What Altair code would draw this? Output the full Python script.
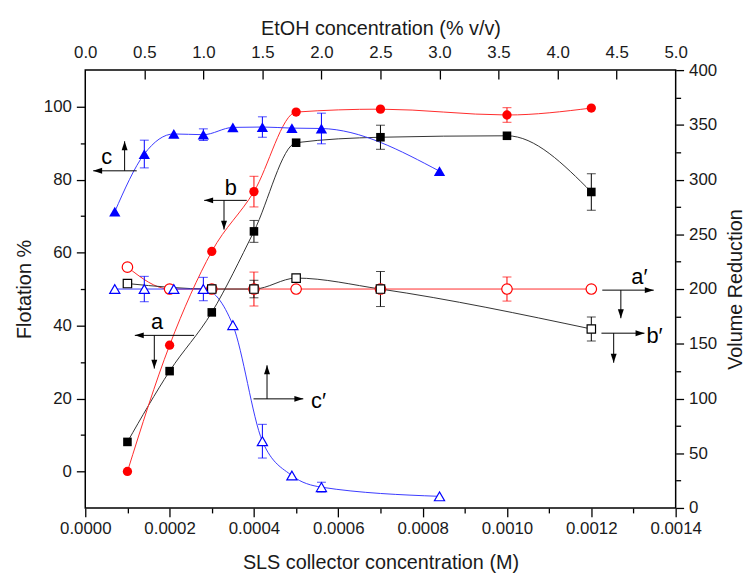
import altair as alt
import pandas as pd

# ---------------- axis ranges ----------------
X_DOMAIN = [0.0, 0.0014]        # SLS collector concentration (M), bottom axis
Y_DOMAIN = [-10.0, 110.0]       # Flotation %, left axis
ETOH_MAX = 5.0                  # top axis 0..5 % v/v spans the same width
VR_MAX = 400.0                  # right axis 0..400 spans the same height

K_ETOH = X_DOMAIN[1] / ETOH_MAX


def vr_to_fl(v):
    return v * (Y_DOMAIN[1] - Y_DOMAIN[0]) / VR_MAX + Y_DOMAIN[0]


# ---------------- data ----------------
sls = [0.0001, 0.0002, 0.0003, 0.0004, 0.0005, 0.0007, 0.0010, 0.0012]
flot_a = [0.0, 34.6, 60.3, 76.7, 98.5, 99.3, 97.7, 99.6]      # red filled circles (a)
flot_b = [8.1, 27.5, 43.6, 65.8, 90.1, 91.6, 92.0, 76.6]      # black filled squares (b)

etoh = [0.25, 0.5, 0.75, 1.0, 1.25, 1.5, 1.75, 2.0, 3.0]
flot_c = [71.2, 87.0, 92.5, 92.3, 94.3, 94.4, 94.1, 94.0, 82.3]  # blue filled triangles (c)

vr_a = [220, 200, 200, 200, 200, 200, 200, 200]               # red open circles (a')
sls_b2 = [0.0001, 0.0003, 0.0004, 0.0005, 0.0007, 0.0012]
vr_b = [205, 200, 200, 210, 200, 163.5]                       # black open squares (b')
vr_c = [200, 200, 200, 200, 167, 61, 29.6, 19, 10.6]          # blue open triangles (c')

# error bars: index into the series, half width (series units)
err_a_idx, err_a_half = [3, 6], [4.2, 2.0]
err_b_idx, err_b_half = [3, 5, 7], [3.0, 3.3, 5.0]
err_c_idx, err_c_half = [1, 3, 5, 7], [3.8, 1.6, 2.8, 4.2]
err_a2_idx, err_a2_half = [3, 6], [15.5, 11.0]
err_b2_idx, err_b2_half = [2, 4, 5], [8.0, 16.0, 11.0]
err_c2_idx, err_c2_half = [1, 3, 5, 7], [11.6, 10.7, 15.4, 4.5]

# annotations (x in M, y in Flotation %)
lab_text = ["c", "b", "a", "c\u2032", "a\u2032", "b\u2032"]
lab_x = [0.0000505, 0.000345, 0.000170, 0.000553, 0.001314, 0.001350]
lab_y = [86.2, 77.6, 40.9, 19.4, 53.3, 37.0]
h_x1 = [0.0000188, 0.000282, 0.0001175, 0.000399, 0.001226, 0.001224]
h_x2 = [0.000122, 0.000383, 0.000258, 0.000517, 0.001348, 0.001326]
h_y = [82.4, 74.3, 37.3, 19.9, 49.7, 37.9]
h_dir = ["left", "left", "left", "right", "right", "right"]
v_x = [0.0000933, 0.000329, 0.0001637, 0.000431, 0.001270, 0.001253]
v_y1 = [82.4, 74.3, 37.3, 19.9, 49.7, 37.9]
v_y2 = [90.5, 66.3, 28.2, 29.1, 42.0, 29.8]

RED, BLACK, BLUE = "#ff0000", "#000000", "#0000ff"
LRED, LBLACK, LBLUE = "#ff2a2a", "#333333", "#3a3aff"

# ---------------- tables ----------------
etoh_x = [e * K_ETOH for e in etoh]


def sdf(name, xs, ys, lc):
    return pd.DataFrame({"series": name, "x": xs, "y": ys, "lc": lc})


a_df = sdf("a", sls, flot_a, LRED)
b_df = sdf("b", sls, flot_b, LBLACK)
c_df = sdf("c", etoh_x, flot_c, LBLUE)
a2_df = sdf("a2", sls, [vr_to_fl(v) for v in vr_a], LRED)
b2_df = sdf("b2", sls_b2, [vr_to_fl(v) for v in vr_b], LBLACK)
c2_df = sdf("c2", etoh_x, [vr_to_fl(v) for v in vr_c], LBLUE)
lines_df = pd.concat([a2_df, b2_df, c2_df, b_df, a_df, c_df], ignore_index=True)

rows = []
for df, idx, half, col, scale in [
    (a_df, err_a_idx, err_a_half, RED, 1.0),
    (b_df, err_b_idx, err_b_half, BLACK, 1.0),
    (c_df, err_c_idx, err_c_half, BLUE, 1.0),
    (a2_df, err_a2_idx, err_a2_half, RED, 0.3),
    (b2_df, err_b2_idx, err_b2_half, BLACK, 0.3),
    (c2_df, err_c2_idx, err_c2_half, BLUE, 0.3),
]:
    for i, h in zip(idx, half):
        xv, yv = df["x"][i], df["y"][i]
        rows.append({"x": xv, "lo": yv - h * scale, "hi": yv + h * scale, "c": col})
err_df = pd.DataFrame(rows)
caps_df = pd.concat(
    [err_df[["x", "lo", "c"]].rename(columns={"lo": "y"}),
     err_df[["x", "hi", "c"]].rename(columns={"hi": "y"})],
    ignore_index=True,
)

lab_df = pd.DataFrame({"x": lab_x, "y": lab_y, "t": lab_text})
h_df = pd.DataFrame({"x": h_x1, "x2": h_x2, "y": h_y})
v_df = pd.DataFrame({"x": v_x, "y": v_y1, "y2": v_y2})
heads = []
for x1, x2, y, d in zip(h_x1, h_x2, h_y, h_dir):
    heads.append({"x": x1 if d == "left" else x2, "y": y, "d": d})
for x, y1, y2 in zip(v_x, v_y1, v_y2):
    heads.append({"x": x, "y": y2, "d": "up" if y2 > y1 else "down"})
heads_df = pd.DataFrame(heads)
SHAPES = {
    "left": "M0,0L3,-1L3,1Z",
    "right": "M0,0L-3,-1L-3,1Z",
    "up": "M0,0L-1,3L1,3Z",
    "down": "M0,0L-1,-3L1,-3Z",
}

# ---------------- scales & axes ----------------
xs = alt.Scale(domain=X_DOMAIN, nice=False, zero=False)
ys = alt.Scale(domain=Y_DOMAIN, nice=False, zero=False)

x_major = [i * 0.0002 for i in range(8)]
x_minor = [0.0001 + i * 0.0002 for i in range(7)]
top_vals = [i * 0.5 * K_ETOH for i in range(11)]
top_ticks = [i * 0.5 * K_ETOH for i in range(1, 10)]
y_major = [0, 20, 40, 60, 80, 100]
y_minor = [10, 30, 50, 70, 90]
r_major = [vr_to_fl(v) for v in range(0, 401, 50)]
r_minor = [vr_to_fl(v) for v in range(25, 400, 50)]

ax_bottom = alt.Axis(orient="bottom", values=x_major, format=".4f",
                     title="SLS collector concentration (M)", tickSize=9,
                     labelPadding=4, titlePadding=16, labelFlush=False,
                     labelOverlap=False)
ax_bottom_minor = alt.Axis(orient="bottom", values=x_minor, labels=False,
                           title=None, tickSize=5)
ax_top = alt.Axis(orient="top", values=top_vals, ticks=False, tickSize=0,
                  labelExpr=f"format(datum.value / {K_ETOH}, '.1f')",
                  title="EtOH concentration (% v/v)", labelPadding=9,
                  titlePadding=5, labelFlush=False, labelOverlap=False)
ax_top_ticks = alt.Axis(orient="top", values=top_ticks, labels=False,
                        title=None, tickSize=9, offset=-9)
ax_left = alt.Axis(orient="left", values=y_major, title="Flotation %",
                   tickSize=9, labelPadding=5, titlePadding=9)
ax_left_minor = alt.Axis(orient="left", values=y_minor, labels=False,
                         title=None, tickSize=5)
ax_right = alt.Axis(orient="right", values=r_major, title="Volume Reduction",
                    labelExpr="format((datum.value + 10) / 0.3, 'd')",
                    tickSize=8, labelPadding=5, titlePadding=9,
                    titleAngle=270, titleBaseline="top")
ax_right_minor = alt.Axis(orient="right", values=r_minor, labels=False,
                          title=None, tickSize=5)


def X(axis, field="x"):
    return alt.X(f"{field}:Q", scale=xs, axis=axis)


def Y(axis, field="y"):
    return alt.Y(f"{field}:Q", scale=ys, axis=axis)


lines = alt.Chart(lines_df).mark_line(interpolate="monotone", strokeWidth=1).encode(
    x=X(ax_bottom), y=Y(ax_left),
    color=alt.Color("lc:N", scale=None), detail="series:N", order="x:Q",
)

err_rules = alt.Chart(err_df).mark_rule(strokeWidth=1).encode(
    x=X(ax_bottom_minor), y=Y(ax_left_minor), y2=alt.Y2("hi:Q"),
    color=alt.Color("c:N", scale=None),
).transform_calculate(y="datum.lo")

err_caps = alt.Chart(caps_df).mark_tick(orient="horizontal", size=9, thickness=1).encode(
    x=X(ax_top), y=Y(ax_right), color=alt.Color("c:N", scale=None),
)


def pts(df, shape, size, color, filled, axes=(None, None)):
    if filled:
        m = alt.Chart(df).mark_point(shape=shape, size=size, filled=True,
                                     fill=color, opacity=1, strokeWidth=0)
    else:
        m = alt.Chart(df).mark_point(shape=shape, size=size, filled=True,
                                     fill="white", stroke=color, strokeWidth=1.2,
                                     opacity=1)
    return m.encode(x=X(axes[0]), y=Y(axes[1]))


p_a2 = pts(a2_df, "circle", 112, RED, False, (ax_top_ticks, ax_right_minor))
p_b2 = pts(b2_df, "square", 72, BLACK, False)
p_c2 = pts(c2_df, "triangle-up", 105, BLUE, False)
p_b = pts(b_df, "square", 75, BLACK, True)
p_a = pts(a_df, "circle", 88, RED, True)
p_c = pts(c_df, "triangle-up", 130, BLUE, True)

hl = alt.Chart(h_df).mark_rule(color="black", strokeWidth=1).encode(
    x=X(None), x2="x2:Q", y=Y(None))
vl = alt.Chart(v_df).mark_rule(color="black", strokeWidth=1).encode(
    x=X(None), y=Y(None), y2="y2:Q")
head_layers = []
for d, path in SHAPES.items():
    head_layers.append(
        alt.Chart(heads_df).transform_filter(f"datum.d == '{d}'").mark_point(
            shape=path, size=36, filled=True, fill="black", opacity=1, strokeWidth=0
        ).encode(x=X(None), y=Y(None))
    )
labels = alt.Chart(lab_df).mark_text(fontSize=22, font="Liberation Sans",
                                     color="black", align="center",
                                     baseline="middle").encode(
    x=X(None), y=Y(None), text="t:N")

chart = alt.layer(
    lines, err_rules, err_caps, p_a2, p_b2, p_c2, p_b, p_a, p_c,
    hl, vl, *head_layers, labels,
).resolve_axis(x="independent", y="independent").properties(
    width=596, height=442,
    autosize=alt.AutoSizeParams(type="none"),
    padding={"left": 78, "top": 60, "right": 71, "bottom": 67},
).configure_view(
    stroke="black", strokeWidth=1.5
).configure_axis(
    grid=False, domain=False, tickColor="black", tickWidth=1.3,
    labelFont="Liberation Sans", labelFontSize=17, labelColor="#1a1a1a",
    titleFont="Liberation Sans", titleFontSize=20, titleFontWeight="normal",
    titleColor="#1a1a1a",
)

chart.save("out.html", embed_options={"renderer": "svg", "actions": False})
